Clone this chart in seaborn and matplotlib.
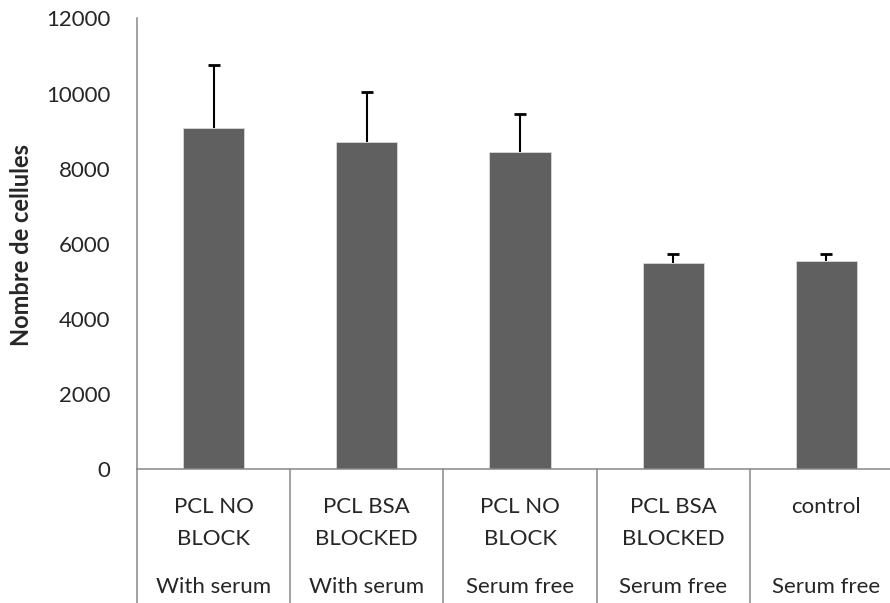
import numpy as np
import pandas as pd
import matplotlib
matplotlib.use("Agg")
import matplotlib.pyplot as plt
import seaborn as sns

# values
conditions = ["PCL NO\nBLOCK", "PCL BSA\nBLOCKED", "PCL NO\nBLOCK", "PCL BSA\nBLOCKED", "control"]
groups = ["With serum", "With serum", "Serum free", "Serum free", "Serum free"]
cells = [9075, 8700, 8435, 5480, 5530]
err_up = [1680, 1350, 1030, 255, 195]
yticks = [0, 2000, 4000, 6000, 8000, 10000, 12000]

sns.set_style("white")
plt.rcParams["font.family"] = ["Lato", "DejaVu Sans"]

df = pd.DataFrame({"pos": range(len(cells)), "cells": cells})

W, H = 890, 603
fig = plt.figure(figsize=(W / 100, H / 100), dpi=100)
# axes runs past the right edge like the original (last category is cut)
x0, x1, ytop, ybot = 137, 903, 18.4, 469
ax = fig.add_axes([x0 / W, (H - ybot) / H, (x1 - x0) / W, (ybot - ytop) / H])

sns.barplot(data=df, x="pos", y="cells", color="#606060", saturation=1,
            width=0.4, edgecolor="#d8d8d8", linewidth=0.6, ax=ax)
eb = ax.errorbar(df["pos"], cells, yerr=[np.zeros(len(cells)), err_up], fmt="none",
                 ecolor="black", elinewidth=1.5, capsize=4, capthick=2)
eb[1][0].set_visible(False)  # only the upper cap

ax.set_xlim(-0.5, 4.5)
ax.set_ylim(0, 12000)
ax.set_yticks(yticks)
ax.set_yticklabels([str(v) for v in yticks], fontsize=16)
ax.tick_params(axis="y", direction="out", length=5, width=1.1, color="#888888", pad=14)
ax.set_xticks(range(len(cells)))
ax.set_xticklabels(conditions, fontsize=16, linespacing=1.75)
ax.tick_params(axis="x", length=0, pad=20)
ax.set_xlabel("")
ax.set_ylabel("")

for s in ["top", "right"]:
    ax.spines[s].set_visible(False)
for s in ["left", "bottom"]:
    ax.spines[s].set_color("#888888")
    ax.spines[s].set_linewidth(1.1)

# category box lines below the axis
tr = ax.get_xaxis_transform()
depth = -(H - ybot) / (ybot - ytop) - 0.02
for k in range(len(cells)):
    ax.plot([k - 0.5, k - 0.5], [0, depth], transform=tr, color="#888888",
            lw=1.1, clip_on=False)
for k, g in enumerate(groups):
    ax.text(k, -(587 - ybot) / (ybot - ytop), g, transform=tr, ha="center",
            va="center", fontsize=16)

fig.text(22 / W, 1 - 245 / H, "Nombre de cellules", rotation=90, ha="center",
         va="center", fontsize=17, fontweight="bold")

fig.savefig("out.png", dpi=100)
